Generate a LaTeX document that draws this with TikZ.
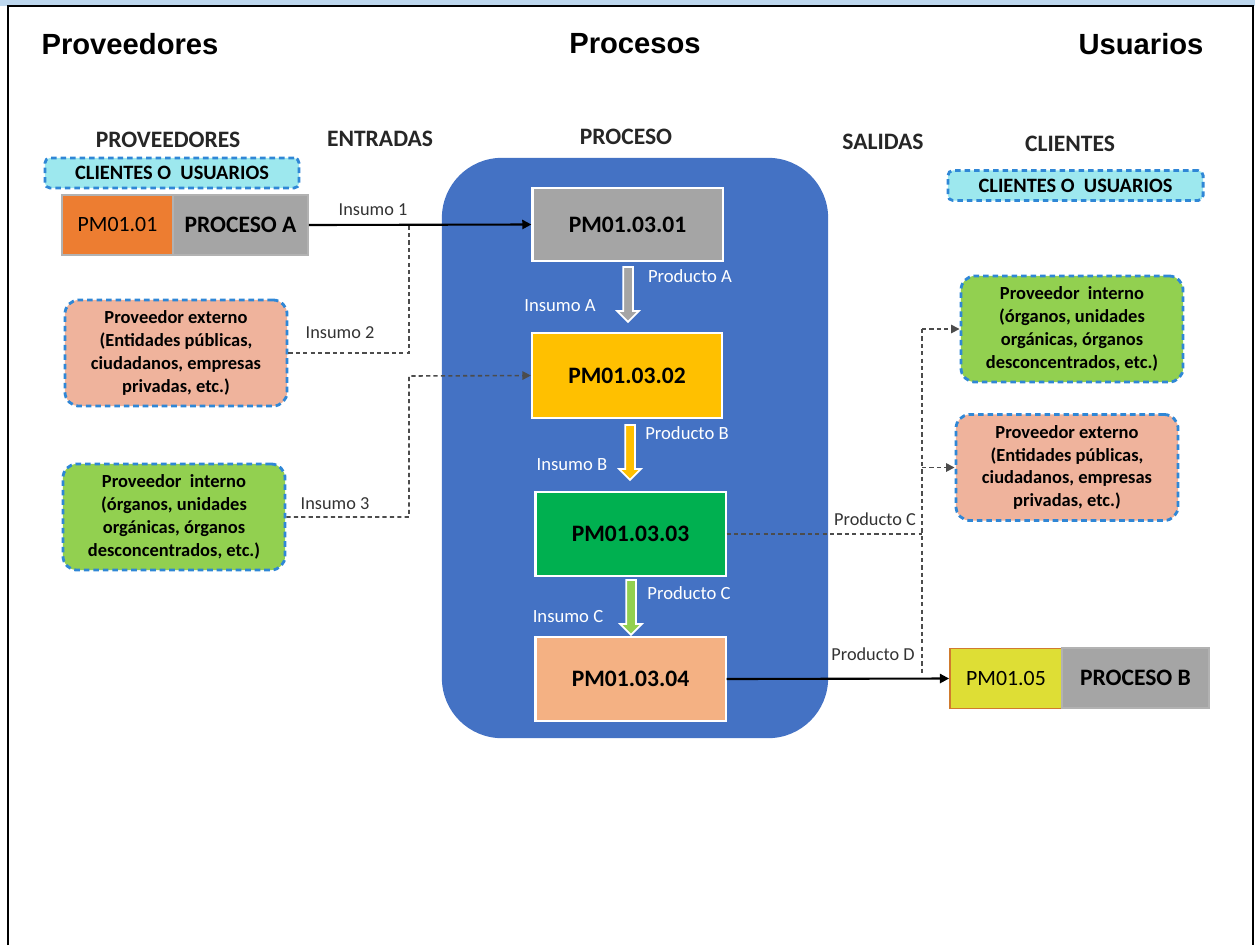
\documentclass[tikz,border=0pt]{standalone}
\usepackage{fontspec}
\setmainfont{Carlito}
\newfontfamily\headfont{Liberation Sans}
\usetikzlibrary{arrows.meta,shapes.arrows}

\definecolor{bandblue}{HTML}{BDD7EE}
\definecolor{procblue}{HTML}{4472C4}
\definecolor{boxgray}{HTML}{A5A5A5}
\definecolor{boxorange}{HTML}{ED7D31}
\definecolor{boxyellow}{HTML}{FFC000}
\definecolor{boxgreen}{HTML}{00B050}
\definecolor{boxpeach}{HTML}{F4B183}
\definecolor{salmon}{HTML}{EFB39C}
\definecolor{lightgreen}{HTML}{92D050}
\definecolor{cyanbox}{HTML}{9DE8EE}
\definecolor{dashblue}{HTML}{2F87D6}
\definecolor{pmyellow}{HTML}{DEDE35}
\definecolor{pmborder}{HTML}{D07B2E}

\tikzset{
  headtxt/.style={font=\headfont\fontsize{8.3}{10}\selectfont\bfseries},
  colhead/.style={font=\fontsize{6.7}{8}\selectfont\bfseries, text=black!85},
  pmbox/.style={draw=white, line width=0.6pt, minimum width=1.9cm, font=\fontsize{6.7}{8}\selectfont\bfseries},
  endbox/.style={draw=black!30, line width=0.5pt, minimum height=0.6cm, inner sep=0pt},
  provbox/.style={draw=dashblue, dash pattern=on 1.6pt off 1.1pt, line width=0.8pt, rounded corners=0.14cm,
    minimum width=2.22cm, minimum height=1.06cm, align=center, inner sep=0pt,
    font=\fontsize{5.25}{6.5}\selectfont\bfseries},
  tagbox/.style={fill=cyanbox, draw=dashblue, dash pattern=on 1.6pt off 1.1pt, line width=0.8pt,
    rounded corners=0.05cm, minimum height=0.3cm, inner sep=0pt, font=\fontsize{5.8}{7}\selectfont\bfseries},
  flowlbl/.style={font=\fontsize{5.2}{6}\selectfont, text=black!80},
  inlbl/.style={font=\fontsize{5.3}{6}\selectfont, text=white},
  solidline/.style={line width=0.6pt, -{Triangle[length=2.6pt,width=2.6pt]}},
  dashline/.style={line width=0.45pt, draw=black!70, dash pattern=on 1.2pt off 0.9pt},
  dasharrow/.style={dashline, -{Triangle[length=2.4pt,width=2.4pt]}},
  blockarrow/.style={single arrow, draw=white, line width=0.5pt, shape border rotate=270,
    minimum width=0.2cm, minimum height=0.55cm, single arrow head extend=0.06cm, inner sep=0.04cm}
}

\begin{document}
\begin{tikzpicture}[x=0.01cm, y=-0.01cm]
	%%%%% START %%%%%
	\useasboundingbox (0,0) rectangle (1255,945);
	
	\fill[bandblue] (0,0) rectangle (1255,6);
	\draw[line width=0.8pt] (8,945) -- (8,6) -- (1253,6) -- (1253,945);
	
	\node[headtxt] (hprov) at (130,44) {Proveedores};
	\node[headtxt] (hproc) at (635,44) {Procesos};
	\node[headtxt] (husu) at (1141,44) {Usuarios};
	
	\node[fill=procblue, rounded corners=0.6cm, minimum width=3.86cm, minimum height=5.8cm] (procarea) at (635,448) {};
	
	\node[colhead] (cprov) at (168,140) {PROVEEDORES};
	\node[colhead] (centr) at (380,139) {ENTRADAS};
	\node[colhead] (cproc) at (626,137) {PROCESO};
	\node[colhead] (csal) at (883,142) {SALIDAS};
	\node[colhead] (ccli) at (1070,144) {CLIENTES};
	
	\node[tagbox, minimum width=2.54cm] (tagL) at (172,173) {CLIENTES O\ \ USUARIOS};
	\node[tagbox, minimum width=2.55cm] (tagR) at (1075.5,185.5) {CLIENTES O\ \ USUARIOS};
	
	% left side
	\node[endbox, fill=boxorange, minimum width=1.11cm, font=\fontsize{6.2}{7}\selectfont] (pm01) at (117.5,225) {PM01.01};
	\node[endbox, fill=boxgray, minimum width=1.35cm, font=\fontsize{6.7}{8}\selectfont\bfseries] (procA) at (240.5,225) {PROCESO A};
	\node[provbox, fill=salmon] (extL) at (176,353) {Proveedor externo\\(Entidades públicas,\\ciudadanos, empresas\\privadas, etc.)};
	\node[provbox, fill=lightgreen] (intL) at (174,517) {Proveedor\ \ interno\\(órganos, unidades\\orgánicas, órganos\\desconcentrados, etc.)};
	
	% process chain
	\node[pmbox, fill=boxgray, minimum height=0.73cm] (p1) at (627.5,224.5) {PM01.03.01};
	\node[pmbox, fill=boxyellow, minimum height=0.85cm] (p2) at (627,375.5) {PM01.03.02};
	\node[pmbox, fill=boxgreen, minimum height=0.84cm] (p3) at (630.5,534) {PM01.03.03};
	\node[pmbox, fill=boxpeach, minimum height=0.84cm] (p4) at (630.5,679) {PM01.03.04};
	
	\node[blockarrow, fill=boxgray] (aA) at (628,292) {};
	\node[blockarrow, fill=boxyellow] (aB) at (630,450) {};
	\node[blockarrow, fill=lightgreen] (aC) at (631,605) {};
	
	\node[inlbl] at (690,276) {Producto A};
	\node[inlbl] at (560,306) {Insumo A};
	\node[inlbl] at (687,433) {Producto B};
	\node[inlbl] at (572,465) {Insumo B};
	\node[inlbl] at (689,593) {Producto C};
	\node[inlbl] at (568,617) {Insumo C};
	
	% right side
	\node[provbox, fill=lightgreen] (intR) at (1072,329) {Proveedor\ \ interno\\(órganos, unidades\\orgánicas, órganos\\desconcentrados, etc.)};
	\node[provbox, fill=salmon] (extR) at (1067,467.5) {Proveedor externo\\(Entidades públicas,\\ciudadanos, empresas\\privadas, etc.)};
	\node[endbox, draw=pmborder, fill=pmyellow, minimum width=1.12cm, font=\fontsize{6.2}{7}\selectfont] (pm05) at (1006,678.5) {PM01.05};
	\node[endbox, fill=boxgray, minimum width=1.47cm, font=\fontsize{6.7}{8}\selectfont\bfseries] (procB) at (1135.5,678) {PROCESO B};
	
	% inputs
	\coordinate (jin) at (409,225);
	\coordinate (jin3) at (409,376);
	\draw[solidline] (procA.east) -- (p1.west);
	\node[flowlbl] at (373,210) {Insumo 1};
	\draw[dashline] (extL.east) -| (jin);
	\node[flowlbl] at (340,333) {Insumo 2};
	\draw[dasharrow] (intL.east) -| (jin3) -- (p2.west);
	\node[flowlbl] at (335,504) {Insumo 3};
	
	% outputs
	\coordinate (jtop) at (922,329);
	\coordinate (jbot) at (922,673);
	\draw[dashline] (p3.east) -- (p3.east -| jtop);
	\draw[dashline] (jtop) -- (jbot);
	\draw[dasharrow] (jtop) -- (intR.west);
	\draw[dasharrow] (extR.west -| jtop) -- (extR.west);
	\node[flowlbl] at (875,519) {Producto C};
	\draw[solidline] (p4.east) -- (pm05.west);
	\node[flowlbl] at (873,654) {Producto D};
	%%%%% END %%%%%
\end{tikzpicture}
\end{document}
